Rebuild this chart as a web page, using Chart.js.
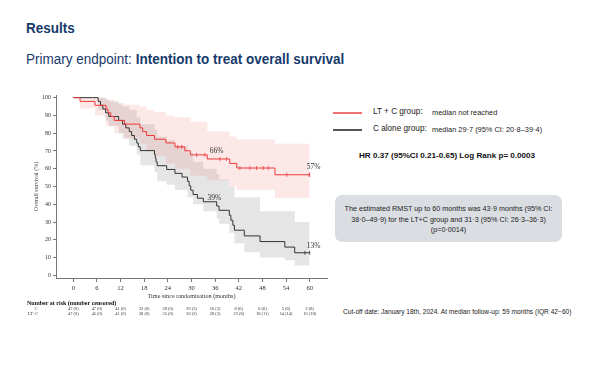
<!DOCTYPE html>
<html><head><meta charset="utf-8">
<script src="https://cdn.jsdelivr.net/npm/chart.js@4.4.1/dist/chart.umd.min.js"></script>
<style>
html,body{margin:0;padding:0;background:#fff;}
body{width:600px;height:365px;position:relative;overflow:hidden;font-family:"Liberation Sans Narrow","Arial Narrow","Liberation Sans",Arial,sans-serif;color:#222;}
.abs{position:absolute;white-space:nowrap;line-height:1;}
#title{left:26px;top:21px;font-size:14.5px;font-weight:bold;color:#173a6b;transform:scaleX(0.93);transform-origin:0 0;}
#sub{left:26px;top:51.5px;font-size:14px;color:#173a6b;transform:scaleX(0.965);transform-origin:0 0;}
#sub b{font-weight:bold;}
.lg{position:absolute;height:2px;width:29px;left:333px;}
.lgt{font-size:8.2px;}
.lgs{font-size:7.4px;}
#hr{left:359px;top:151.5px;font-size:8.1px;font-weight:bold;color:#111;}
#box{position:absolute;left:335px;top:195px;width:227px;height:47px;background:#dadee3;border-radius:7px;}
#box div{position:absolute;left:0;width:227px;text-align:center;font-size:7.2px;line-height:1;color:#222;white-space:nowrap;}
#cut{left:343px;top:309px;font-size:6.6px;}
#wrap{position:absolute;left:0;top:85px;width:340px;height:280px;}
</style></head>
<body>
<div id="title" class="abs">Results</div>
<div id="sub" class="abs">Primary endpoint: <b>Intention to treat overall survival</b></div>

<div class="lg" style="top:112px;background:#f07272;"></div>
<div class="abs lgt" style="left:373px;top:108px;">LT + C group:</div>
<div class="abs lgs" style="left:432px;top:108.5px;">median not reached</div>
<div class="lg" style="top:129px;background:#555;"></div>
<div class="abs lgt" style="left:373px;top:125px;">C alone group:</div>
<div class="abs lgs" style="left:432px;top:125.5px;">median 29·7 (95% CI: 20·8–39·4)</div>
<div id="hr" class="abs">HR 0.37 (95%CI 0.21-0.65) Log Rank p= 0.0003</div>

<div id="box">
<div style="top:9.5px;">The estimated RMST up to 60 months was 43·9 months (95% CI:</div>
<div style="top:20.5px;">38·0–49·9) for the LT+C group and 31·3 (95% CI: 26·3–36·3)</div>
<div style="top:30.5px;">(p=0·0014)</div>
</div>
<div id="cut" class="abs">Cut-off date: January 18th, 2024. At median follow-up: 59 months (IQR 42−60)</div>

<div id="wrap"><canvas id="c" width="340" height="280"></canvas></div>

<script>
// ---- data ----
const tickMonths = [0,6,12,18,24,30,36,42,48,54,60];
const yTicks = [0,10,20,30,40,50,60,70,80,90,100];

// LT + C Kaplan-Meier steps
const ltcTimes = [0,1.7,5.5,8.3,8.8,9.5,10.4,13.0,16.9,17.6,18.6,20.6,23.5,25.8,28.3,29.7,34.0,39.7,41.5,51.2,60];
const ltcSurv  = [100,97.9,95.7,93.6,91.5,89.4,87.2,85.1,83.0,80.9,78.7,76.6,74.5,72.3,70.1,67.8,65.5,63.0,60.4,56.6,56.6];
const ltcCensor = [26.5,27.5,31.3,33.4,37.2,38.9,42.3,44.8,46.5,48.2,49.5,54.2,59.9,60];

// C alone Kaplan-Meier steps
const cTimes = [0,6.3,6.9,7.5,8.2,9.0,11.5,12.5,13.3,14.2,14.8,15.5,16.1,16.5,17.0,20.6,20.8,21.0,21.3,23.7,25.8,27.6,29.0,29.4,29.8,30.4,31.5,33.0,36.4,37.0,39.6,40.0,40.5,40.9,43.4,47.4,53.7,56.2,60];
const cSurv  = [100,97.9,95.7,93.6,91.5,89.4,87.2,85.1,83.0,80.9,78.7,76.6,74.5,72.3,70.2,68.1,66.0,63.8,61.7,59.6,57.4,55.3,52.9,50.4,47.9,45.5,43.4,41.4,39.0,36.6,33.8,31.0,28.2,25.4,22.2,19.0,15.9,12.7,12.7];
const cCensor = [58.8,60];

// 95% CI bands
const ltcBandTimes = [0,1.7,5.5,8.3,10.4,13.0,16.9,18.6,20.6,23.5,25.8,29.7,34.0,39.7,41.5,51.2,60];
const ltcUpper     = [100,100,100,99,97,96,95,93,92,90,89,86.5,81,78,76.5,74,74];
const ltcLower     = [100,94,90,84,80,77,74,70,67,63,60,56,53.5,50,48,43.5,43.5];

const cBandTimes = [0,6.3,8.2,9.0,11.5,12.5,14.2,16.1,17.0,20.6,21.3,23.7,25.8,29.0,30.4,33.0,36.4,37.0,39.6,40.9,43.4,47.4,53.7,56.2,60];
const cUpper     = [100,100,99,98,96,95,93,89,85,82,78,76,73,69,64,60,57,54,50,44,44,36,36,30,30];
const cLower     = [100,93,87,84,80,77,73,68,62,58,53,51,48,44,40,36,32,29,24,18,13,10,8.5,5.6,5.6];

// annotations
const pctLabels = ['66%','57%','39%','13%'];
const pctMonths = [36.4,61.0,35.8,61.0];
const pctValues = [70.0,61.0,43.7,16.5];

// number at risk
const riskC   = ['47 (0)','47 (0)','41 (0)','33 (0)','28 (0)','20 (3)','16 (3)','8 (6)','6 (6)','5 (6)','2 (8)'];
const riskLTC = ['47 (0)','45 (0)','41 (0)','38 (0)','35 (0)','30 (2)','28 (3)','23 (6)','18 (11)','14 (14)','10 (18)'];

// ---- helpers ----
const pts = (t,v)=>t.map((x,i)=>({x:x,y:v[i]}));
const stepAt = (t,v,x)=>{let s=v[0];for(let i=0;i<t.length;i++){if(t[i]<=x)s=v[i];}return s;};
const censorPts = (ct,t,v)=>ct.map(x=>({x:x,y:stepAt(t,v,x)}));

const SERIF = '"Liberation Serif","Times New Roman",serif';

const extras = {
  id:'extras',
  afterDraw(chart){
    const {ctx, scales:{x,y}} = chart;
    ctx.save();
    ctx.fillStyle='#333';
    ctx.textAlign='center'; ctx.textBaseline='middle';
    ctx.font = '7.5px '+SERIF;
    pctLabels.forEach((t,i)=>ctx.fillText(t, x.getPixelForValue(pctMonths[i]), y.getPixelForValue(pctValues[i])));
    const off = 85;
    ctx.fillStyle='#111';
    ctx.textAlign='left';
    ctx.font = 'bold 6px '+SERIF;
    ctx.fillText('Number at risk (number censored)', 27, 303.5-off);
    ctx.font = '4.4px '+SERIF;
    ctx.fillStyle='#333';
    ctx.textAlign='center';
    ctx.fillText('C', 36, 309-off);
    ctx.fillText('LT+C', 33, 313.5-off);
    tickMonths.forEach((m,i)=>{
      const px = x.getPixelForValue(m);
      ctx.fillText(riskC[i], px, 309-off);
      ctx.fillText(riskLTC[i], px, 313.5-off);
    });
    ctx.restore();
  }
};

new Chart(document.getElementById('c'), {
  type:'line',
  data:{
    datasets:[
      {label:'C upper', data:pts(cBandTimes,cUpper), stepped:true, borderWidth:0, pointRadius:0, fill:false, order:10},
      {label:'C lower', data:pts(cBandTimes,cLower), stepped:true, borderWidth:0, pointRadius:0, fill:'-1', backgroundColor:'rgba(218,218,218,0.7)', order:9},
      {label:'LT upper', data:pts(ltcBandTimes,ltcUpper), stepped:true, borderWidth:0, pointRadius:0, fill:false, order:8},
      {label:'LT lower', data:pts(ltcBandTimes,ltcLower), stepped:true, borderWidth:0, pointRadius:0, fill:'-1', backgroundColor:'rgba(240,110,110,0.16)', order:7},
      {label:'C', data:pts(cTimes,cSurv), stepped:true, borderColor:'#333', borderWidth:1, pointRadius:0, fill:false, order:3},
      {label:'LT+C', data:pts(ltcTimes,ltcSurv), stepped:true, borderColor:'#ee3a3a', borderWidth:1, pointRadius:0, fill:false, order:2},
      {label:'C cens', type:'scatter', data:censorPts(cCensor,cTimes,cSurv), pointStyle:'line', rotation:90, radius:2, borderColor:'#333', borderWidth:0.8, order:1},
      {label:'LT cens', type:'scatter', data:censorPts(ltcCensor,ltcTimes,ltcSurv), pointStyle:'line', rotation:90, radius:2, borderColor:'#ee3a3a', borderWidth:0.8, order:1}
    ]
  },
  options:{
    responsive:false, animation:false,
    layout:{padding:{left:0,right:13,top:10,bottom:0}},
    plugins:{legend:{display:false}, tooltip:{enabled:false}},
    scales:{
      x:{type:'linear', min:-4.4, max:64.4,
        afterBuildTicks:s=>{s.ticks=tickMonths.map(v=>({value:v}));},
        afterFit:s=>{s.height=87;},
        grid:{display:true, drawOnChartArea:false, drawTicks:true, tickLength:4, color:'#777'},
        border:{display:true, color:'#777', width:1},
        ticks:{font:{family:SERIF,size:6.5}, color:'#333', padding:2, maxRotation:0, autoSkip:false},
        title:{display:true, text:'Time since randomisation (months)', font:{family:SERIF,size:6.2}, color:'#333', padding:{top:0,bottom:64.5}}
      },
      y:{type:'linear', min:-1.5, max:101.5,
        afterBuildTicks:s=>{s.ticks=yTicks.map(v=>({value:v}));},
        afterFit:s=>{s.width=56;},
        grid:{display:true, drawOnChartArea:false, drawTicks:true, tickLength:3, color:'#777'},
        border:{display:true, color:'#777', width:1},
        ticks:{font:{family:SERIF,size:6}, color:'#333', padding:2, autoSkip:false},
        title:{display:true, text:'Overall survival (%)', font:{family:SERIF,size:6}, color:'#333', padding:{top:32.5,bottom:0}}
      }
    }
  },
  plugins:[extras]
});
</script>
</body></html>
